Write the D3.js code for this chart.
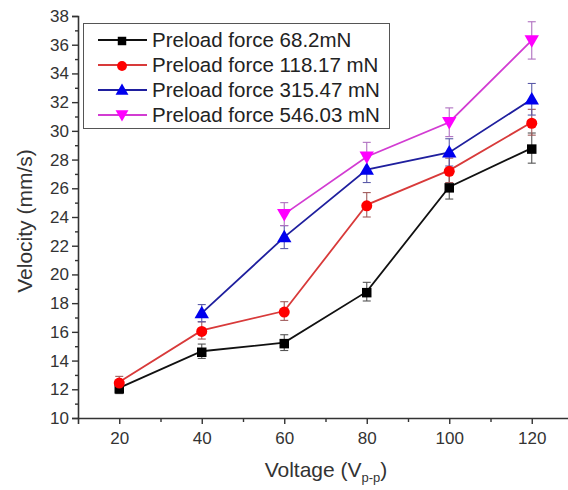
<!DOCTYPE html>
<html>
<head>
<meta charset="utf-8">
<script src="https://cdn.jsdelivr.net/npm/d3@7"></script>
<style>
  html, body { margin: 0; padding: 0; background: #fff; }
  svg { display: block; font-family: "Liberation Sans", Arial, sans-serif; }
</style>
</head>
<body>
<svg id="chart" width="568" height="490"></svg>
<script>
// Driving voltage (Vp-p)
const voltages = [20, 40, 60, 80, 100, 120];

// Mean velocity (mm/s) per preload force; null = not measured
const seriesNames = [
  "Preload force 68.2mN",
  "Preload force 118.17 mN",
  "Preload force 315.47 mN",
  "Preload force 546.03 mN"
];
const velocity68 = [12.1, 14.65, 15.25, 18.8, 26.1, 28.8];
const velocity118 = [12.5, 16.1, 17.45, 24.85, 27.25, 30.6];
const velocity315 = [null, 17.3, 22.6, 27.3, 28.5, 32.2];
const velocity546 = [null, null, 24.2, 28.2, 30.6, 36.3];

// Standard deviation (mm/s)
const error68 = [0.4, 0.5, 0.55, 0.65, 0.85, 1.05];
const error118 = [0.4, 0.6, 0.65, 0.85, 0.85, 0.9];
const error315 = [null, 0.6, 0.8, 0.9, 0.95, 1.1];
const error546 = [null, null, 0.8, 1.0, 1.0, 1.3];

const yTicks = [10, 12, 14, 16, 18, 20, 22, 24, 26, 28, 30, 32, 34, 36, 38];
const xTicks = [20, 40, 60, 80, 100, 120];

const styles = [
  { line: "#111111", fill: "#000000", err: "#555555", shape: d3.symbolSquare, size: 90, rot: 0 },
  { line: "#d83a3a", fill: "#ff0000", err: "#a05a5a", shape: d3.symbolCircle, size: 95, rot: 0 },
  { line: "#1f1f9e", fill: "#0000ee", err: "#5a5aa8", shape: d3.symbolTriangle, size: 90, rot: 0 },
  { line: "#d23cd2", fill: "#ff00ff", err: "#b070c0", shape: d3.symbolTriangle, size: 90, rot: 180 }
];

const seriesValues = [velocity68, velocity118, velocity315, velocity546];
const seriesErrors = [error68, error118, error315, error546];

const series = seriesNames.map((name, i) => ({
  name,
  style: styles[i],
  points: voltages.map((v, j) => ({ x: v, y: seriesValues[i][j], e: seriesErrors[i][j] }))
                  .filter(p => p.y !== null)
}));

const svg = d3.select("#chart");
const x = d3.scaleLinear().domain([10, 130]).range([78, 573]);
const y = d3.scaleLinear().domain([10, 38]).range([418, 16]);

// Axes
const axisColor = "#333";
const yAxis = svg.append("g").attr("transform", `translate(${x(10)},0)`)
  .call(d3.axisLeft(y).tickValues(yTicks).tickSize(6).tickPadding(3));
const yMinor = svg.append("g").attr("transform", `translate(${x(10)},0)`)
  .call(d3.axisLeft(y).tickValues(d3.range(11, 38, 2)).tickSize(3).tickFormat(""));
const xAxis = svg.append("g").attr("transform", `translate(0,${y(10)})`)
  .call(d3.axisBottom(x).tickValues(xTicks).tickSize(6).tickPadding(8));
const xMinor = svg.append("g").attr("transform", `translate(0,${y(10)})`)
  .call(d3.axisBottom(x).tickValues([30, 50, 70, 90, 110]).tickSize(4).tickFormat(""));

[yAxis, yMinor, xAxis, xMinor].forEach(g => {
  g.select(".domain").attr("stroke", axisColor).attr("stroke-width", 1.6);
  g.selectAll(".tick line").attr("stroke", axisColor).attr("stroke-width", 1.4);
  g.selectAll(".tick text").attr("fill", "#333").attr("font-size", 17)
    .attr("font-family", "Liberation Sans, Arial, sans-serif");
});
xMinor.select(".domain").remove();
yMinor.select(".domain").remove();

// Axis titles
svg.append("text")
  .attr("transform", `translate(32,${(y(10) + y(38)) / 2 + 4}) rotate(-90)`)
  .attr("text-anchor", "middle")
  .attr("font-size", 21).attr("fill", "#333")
  .text("Velocity (mm/s)");

const xt = svg.append("text")
  .attr("x", 326).attr("y", 477)
  .attr("text-anchor", "middle")
  .attr("font-size", 21).attr("fill", "#333");
xt.append("tspan").text("Voltage (V");
xt.append("tspan").attr("font-size", 13).attr("dy", 5).text("p-p");
xt.append("tspan").attr("dy", -5).text(")");

// Series
const line = d3.line().x(d => x(d.x)).y(d => y(d.y));
const capW = 4;

series.forEach(s => {
  const g = svg.append("g");
  // error bars
  const eb = g.selectAll("g.err").data(s.points).join("g")
    .attr("stroke", s.style.err).attr("stroke-width", 1.1).attr("fill", "none");
  eb.append("line")
    .attr("x1", d => x(d.x)).attr("x2", d => x(d.x))
    .attr("y1", d => y(d.y - d.e)).attr("y2", d => y(d.y + d.e));
  eb.append("line")
    .attr("x1", d => x(d.x) - capW).attr("x2", d => x(d.x) + capW)
    .attr("y1", d => y(d.y + d.e)).attr("y2", d => y(d.y + d.e));
  eb.append("line")
    .attr("x1", d => x(d.x) - capW).attr("x2", d => x(d.x) + capW)
    .attr("y1", d => y(d.y - d.e)).attr("y2", d => y(d.y - d.e));
  // line
  g.append("path").datum(s.points)
    .attr("d", line).attr("fill", "none")
    .attr("stroke", s.style.line).attr("stroke-width", 1.8);
});

series.forEach(s => {
  svg.append("g").selectAll("path").data(s.points).join("path")
    .attr("d", d3.symbol().type(s.style.shape).size(s.style.size))
    .attr("transform", d => `translate(${x(d.x)},${y(d.y) + (s.style.rot ? -1 : 1)}) rotate(${s.style.rot})`)
    .attr("fill", s.style.fill);
});

// Legend
const legend = svg.append("g");
legend.append("rect")
  .attr("x", 83.5).attr("y", 23.5).attr("width", 306).attr("height", 105)
  .attr("fill", "#fff").attr("stroke", "#555").attr("stroke-width", 1);

series.forEach((s, i) => {
  const cy = 40 + i * 25;
  const row = legend.append("g");
  row.append("line").attr("x1", 98).attr("x2", 147).attr("y1", cy).attr("y2", cy)
    .attr("stroke", s.style.line).attr("stroke-width", 1.8);
  row.append("path")
    .attr("d", d3.symbol().type(s.style.shape).size(s.style.size * 0.8))
    .attr("transform", `translate(122,${cy + (s.style.rot ? -1 : 1)}) rotate(${s.style.rot})`)
    .attr("fill", s.style.fill);
  row.append("text").attr("x", 152).attr("y", cy + 7)
    .attr("font-size", 20.5).attr("fill", "#222")
    .text(s.name);
});
</script>
</body>
</html>
